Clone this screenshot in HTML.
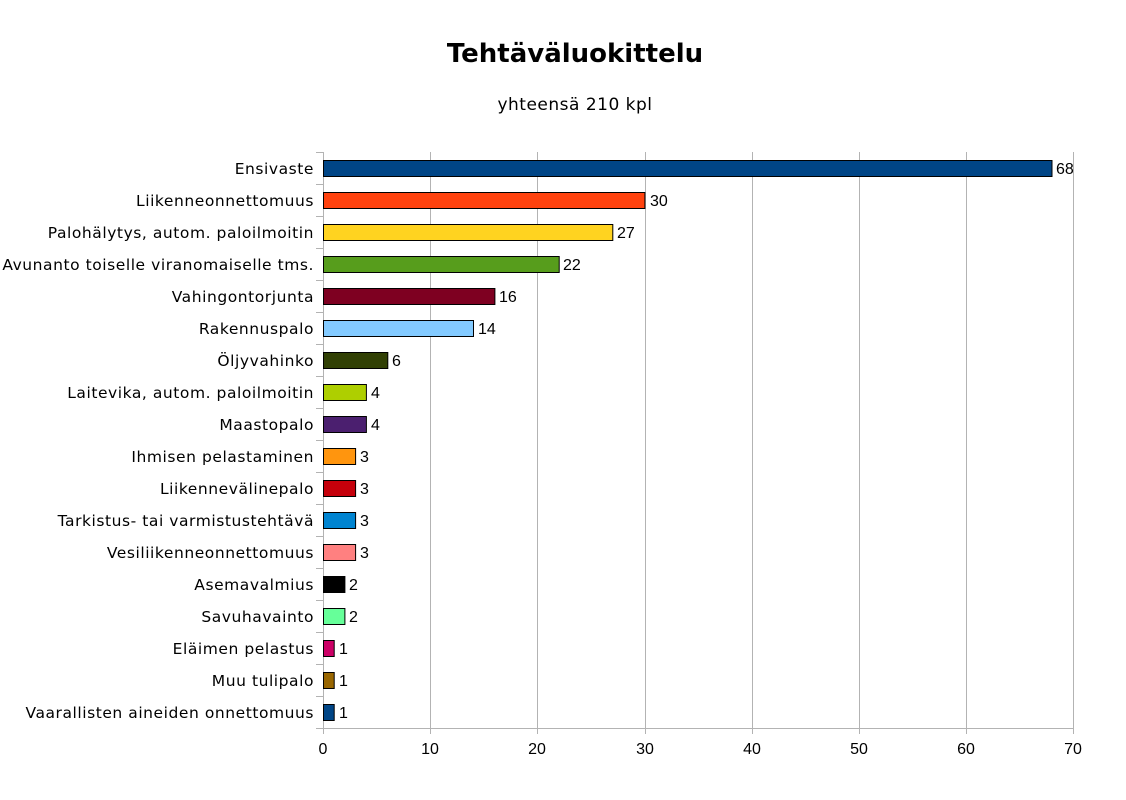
<!DOCTYPE html>
<html><head><meta charset="utf-8"><style>body{margin:0;background:#fff}svg{display:block}</style></head><body>
<svg width="1126" height="800" xmlns="http://www.w3.org/2000/svg" font-family="DejaVu Sans, Liberation Sans, sans-serif">
<text x="575" y="62" text-anchor="middle" font-size="26" font-weight="bold" fill="#000">Tehtäväluokittelu</text>
<text x="575" y="110" text-anchor="middle" font-size="17" letter-spacing="0.5" fill="#000">yhteensä 210 kpl</text>
<g stroke="#b3b3b3" stroke-width="1">
<line x1="323.5" y1="152" x2="323.5" y2="734"/>
<line x1="430.5" y1="152" x2="430.5" y2="734"/>
<line x1="537.5" y1="152" x2="537.5" y2="734"/>
<line x1="645.5" y1="152" x2="645.5" y2="734"/>
<line x1="752.5" y1="152" x2="752.5" y2="734"/>
<line x1="859.5" y1="152" x2="859.5" y2="734"/>
<line x1="966.5" y1="152" x2="966.5" y2="734"/>
<line x1="1073.5" y1="152" x2="1073.5" y2="734"/>
<line x1="316" y1="728.5" x2="1073" y2="728.5"/>
</g>
<g font-size="16" fill="#000" font-family="Liberation Sans, Arial, sans-serif">
<text x="323" y="754" text-anchor="middle">0</text>
<text x="430" y="754" text-anchor="middle">10</text>
<text x="537" y="754" text-anchor="middle">20</text>
<text x="645" y="754" text-anchor="middle">30</text>
<text x="752" y="754" text-anchor="middle">40</text>
<text x="859" y="754" text-anchor="middle">50</text>
<text x="966" y="754" text-anchor="middle">60</text>
<text x="1073" y="754" text-anchor="middle">70</text>
</g>
<g stroke="#000" stroke-width="1">
<rect x="323.5" y="160.5" width="728.5" height="16" fill="#004586"/>
<rect x="323.5" y="192.5" width="321.4" height="16" fill="#ff420e"/>
<rect x="323.5" y="224.5" width="289.3" height="16" fill="#ffd320"/>
<rect x="323.5" y="256.5" width="235.7" height="16" fill="#579d1c"/>
<rect x="323.5" y="288.5" width="171.4" height="16" fill="#7e0021"/>
<rect x="323.5" y="320.5" width="150" height="16" fill="#83caff"/>
<rect x="323.5" y="352.5" width="64.3" height="16" fill="#314004"/>
<rect x="323.5" y="384.5" width="42.9" height="16" fill="#aecf00"/>
<rect x="323.5" y="416.5" width="42.9" height="16" fill="#4b1f6f"/>
<rect x="323.5" y="448.5" width="32.1" height="16" fill="#ff950e"/>
<rect x="323.5" y="480.5" width="32.1" height="16" fill="#c5000b"/>
<rect x="323.5" y="512.5" width="32.1" height="16" fill="#0084d1"/>
<rect x="323.5" y="544.5" width="32.1" height="16" fill="#ff8080"/>
<rect x="323.5" y="576.5" width="21.4" height="16" fill="#000000"/>
<rect x="323.5" y="608.5" width="21.4" height="16" fill="#66ff99"/>
<rect x="323.5" y="640.5" width="10.7" height="16" fill="#cc0066"/>
<rect x="323.5" y="672.5" width="10.7" height="16" fill="#996600"/>
<rect x="323.5" y="704.5" width="10.7" height="16" fill="#004586"/>
</g>
<g font-size="16" fill="#000" font-family="Liberation Sans, Arial, sans-serif">
<text x="1056" y="174">68</text>
<text x="650" y="206">30</text>
<text x="617" y="238">27</text>
<text x="563" y="270">22</text>
<text x="499" y="302">16</text>
<text x="478" y="334">14</text>
<text x="392" y="366">6</text>
<text x="371" y="398">4</text>
<text x="371" y="430">4</text>
<text x="360" y="462">3</text>
<text x="360" y="494">3</text>
<text x="360" y="526">3</text>
<text x="360" y="558">3</text>
<text x="349" y="590">2</text>
<text x="349" y="622">2</text>
<text x="339" y="654">1</text>
<text x="339" y="686">1</text>
<text x="339" y="718">1</text>
</g>
<g font-size="15.5" letter-spacing="0.55" fill="#000" text-anchor="end">
<text x="314" y="174">Ensivaste</text>
<text x="314" y="206">Liikenneonnettomuus</text>
<text x="314" y="238">Palohälytys, autom. paloilmoitin</text>
<text x="314" y="270">Avunanto toiselle viranomaiselle tms.</text>
<text x="314" y="302">Vahingontorjunta</text>
<text x="314" y="334">Rakennuspalo</text>
<text x="314" y="366">Öljyvahinko</text>
<text x="314" y="398">Laitevika, autom. paloilmoitin</text>
<text x="314" y="430">Maastopalo</text>
<text x="314" y="462">Ihmisen pelastaminen</text>
<text x="314" y="494">Liikennevälinepalo</text>
<text x="314" y="526">Tarkistus- tai varmistustehtävä</text>
<text x="314" y="558">Vesiliikenneonnettomuus</text>
<text x="314" y="590">Asemavalmius</text>
<text x="314" y="622">Savuhavainto</text>
<text x="314" y="654">Eläimen pelastus</text>
<text x="314" y="686">Muu tulipalo</text>
<text x="314" y="718">Vaarallisten aineiden onnettomuus</text>
</g>
<g stroke="#b3b3b3">
<line x1="316" y1="152.5" x2="323" y2="152.5"/><line x1="316" y1="184.5" x2="323" y2="184.5"/><line x1="316" y1="216.5" x2="323" y2="216.5"/><line x1="316" y1="248.5" x2="323" y2="248.5"/><line x1="316" y1="280.5" x2="323" y2="280.5"/><line x1="316" y1="312.5" x2="323" y2="312.5"/><line x1="316" y1="344.5" x2="323" y2="344.5"/><line x1="316" y1="376.5" x2="323" y2="376.5"/><line x1="316" y1="408.5" x2="323" y2="408.5"/><line x1="316" y1="440.5" x2="323" y2="440.5"/><line x1="316" y1="472.5" x2="323" y2="472.5"/><line x1="316" y1="504.5" x2="323" y2="504.5"/><line x1="316" y1="536.5" x2="323" y2="536.5"/><line x1="316" y1="568.5" x2="323" y2="568.5"/><line x1="316" y1="600.5" x2="323" y2="600.5"/><line x1="316" y1="632.5" x2="323" y2="632.5"/><line x1="316" y1="664.5" x2="323" y2="664.5"/><line x1="316" y1="696.5" x2="323" y2="696.5"/>
</g>
</svg>
</body></html>
